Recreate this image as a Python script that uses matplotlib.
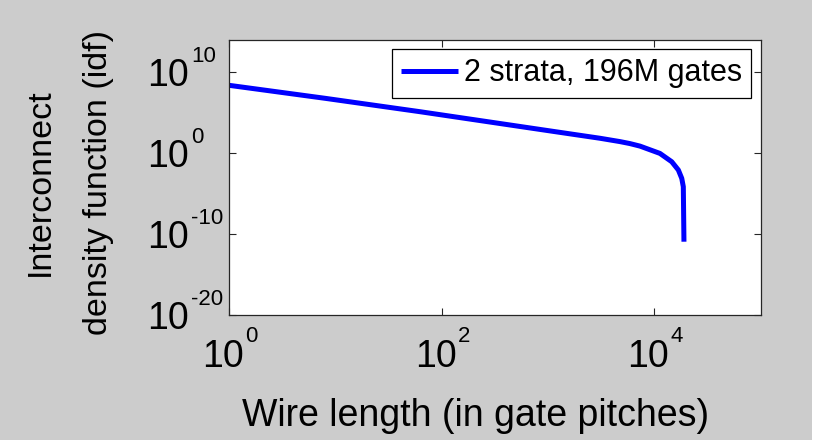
import math
import matplotlib
matplotlib.use("Agg")
import matplotlib.pyplot as plt
import matplotlib.transforms as mtransforms
from matplotlib.patches import Rectangle
from matplotlib.ticker import FixedLocator, NullLocator, NullFormatter

# wire length (gate pitches) and idf
wire_length = [1, 8, 63, 316, 1000, 3090, 4760, 5890, 7350, 11320, 14620,
               16870, 18160, 18790, 19050]
idf = [2.5e8, 6.2e6, 1.35e5, 5.9e3, 6.3e2, 7.1e1, 2.75e1, 1.58e1, 7.6e0,
       9.5e-1, 8.9e-2, 8.5e-3, 7.9e-4, 7.2e-5, 1.15e-11]

series_label = "2 strata, 196M gates"
x_ticks = [1e0, 1e2, 1e4]
y_ticks = [1e-20, 1e-10, 1e0, 1e10]

plt.rcParams['font.family'] = ['Liberation Sans', 'DejaVu Sans']

fig = plt.figure(figsize=(8.19, 4.47), dpi=100, facecolor='white')
# grey figure area, thin white strip right and bottom like the screenshot
fig.patches.append(Rectangle((0, 7 / 447), 812 / 819, 440 / 447,
                             transform=fig.transFigure, facecolor='#cccccc',
                             edgecolor='none', zorder=-10))

ax = fig.add_axes([229 / 819, 1 - 315 / 447, 531.5 / 819, 275 / 447])
ax.set_facecolor('white')
ax.plot(wire_length, idf, color='#0000ff', lw=3.6, label=series_label,
        solid_joinstyle='round', solid_capstyle='butt')

ax.set_xscale('log')
ax.set_yscale('log')
ax.set_xlim(1, 1e5)
ax.set_ylim(1e-20, 1e14)

ax.xaxis.set_major_locator(FixedLocator(x_ticks))
ax.yaxis.set_major_locator(FixedLocator(y_ticks))
ax.xaxis.set_minor_locator(NullLocator())
ax.yaxis.set_minor_locator(NullLocator())
ax.xaxis.set_major_formatter(NullFormatter())
ax.yaxis.set_major_formatter(NullFormatter())

ax.tick_params(which='both', direction='in', top=True, right=True,
               length=5, width=0.8, color='#262626')
for s in ax.spines.values():
    s.set_color('#262626')
    s.set_linewidth(0.9)

# MATLAB style 10^n tick labels (hyphen minus, small exponent)
main_fs, exp_fs = 27, 16
for t in x_ticks:
    e = int(round(math.log10(t)))
    tr_main = mtransforms.offset_copy(ax.get_xaxis_transform(), fig=fig,
                                      x=15, y=-52, units='dots')
    tr_exp = mtransforms.offset_copy(ax.get_xaxis_transform(), fig=fig,
                                     x=16, y=-27, units='dots')
    ax.text(t, 0, "10", transform=tr_main, ha='right', va='baseline',
            fontsize=main_fs, clip_on=False)
    ax.text(t, 0, "%d" % e, transform=tr_exp, ha='left', va='baseline',
            fontsize=exp_fs, clip_on=False)
for t in y_ticks:
    e = int(round(math.log10(t)))
    tr_main = mtransforms.offset_copy(ax.get_yaxis_transform(), fig=fig,
                                      x=-82, y=-14, units='dots')
    tr_exp = mtransforms.offset_copy(ax.get_yaxis_transform(), fig=fig,
                                     x=-38, y=10, units='dots')
    ax.text(0, t, "10", transform=tr_main, ha='left', va='baseline',
            fontsize=main_fs, clip_on=False)
    ax.text(0, t, "%d" % e, transform=tr_exp, ha='left', va='baseline',
            fontsize=exp_fs, clip_on=False)

ax.set_xlabel("Wire length (in gate pitches)", fontsize=27)
ax.xaxis.set_label_coords(0.464, -0.303)
ax.set_ylabel("Interconnect\ndensity function (idf)", fontsize=24.5,
              linespacing=2.15)
ax.yaxis.set_label_coords(-0.216, 0.482)

leg = ax.legend(loc='upper right', fontsize=22, frameon=True, fancybox=False,
                framealpha=1, edgecolor='black', borderaxespad=0.3,
                handlelength=1.85, handletextpad=0.2, borderpad=0.3)
leg.get_frame().set_linewidth(0.9)

fig.savefig("out.png", dpi=100, facecolor=fig.get_facecolor())
